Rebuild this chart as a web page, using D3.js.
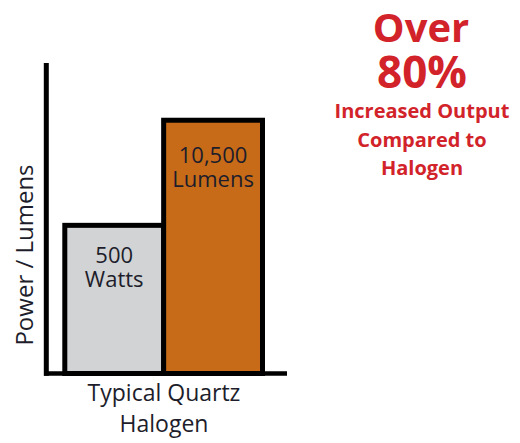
<!DOCTYPE html>
<html>
<head>
<meta charset="utf-8">
<script src="https://cdn.jsdelivr.net/npm/d3@7"></script>
<style>
  body { margin: 0; background: #fff; }
  svg { display: block; font-family: "Open Sans", sans-serif; }
</style>
</head>
<body>
<script>
// categories and values
var categories = ["Watts", "Lumens"];
var valueLabels = ["500", "10,500"];
var unitLabels = ["Watts", "Lumens"];
// relative bar heights as drawn (schematic, not to scale)
var barHeights = [58.5, 100];
var barColors = ["#d1d3d4", "#c86b18"];
var xLabelLines = ["Typical Quartz", "Halogen"];
var yLabel = "Power / Lumens";
var calloutBig = ["Over", "80%"];
var calloutSmall = ["Increased Output", "Compared to", "Halogen"];

var width = 520, height = 443;

var svg = d3.select("body").append("svg")
    .attr("width", width)
    .attr("height", height);

var x = d3.scaleBand()
    .domain(categories)
    .range([64.8, 262.5])
    .padding(0);

var y = d3.scaleLinear()
    .domain([0, 122.6])
    .range([373.5, 63]);

// frame lines
svg.append("line")
    .attr("x1", 46.3).attr("x2", 46.3)
    .attr("y1", y.range()[1]).attr("y2", 375.8)
    .attr("stroke", "#000").attr("stroke-width", 5);

svg.append("line")
    .attr("x1", 44).attr("x2", 287)
    .attr("y1", y(0)).attr("y2", y(0))
    .attr("stroke", "#000").attr("stroke-width", 4.5);

// bars
svg.selectAll("rect.bar")
    .data(categories)
    .enter().append("rect")
    .attr("class", "bar")
    .attr("x", function(d) { return x(d); })
    .attr("y", function(d, i) { return y(barHeights[i]); })
    .attr("width", x.bandwidth())
    .attr("height", function(d, i) { return y(0) - y(barHeights[i]); })
    .attr("fill", function(d, i) { return barColors[i]; })
    .attr("stroke", "#000")
    .attr("stroke-width", 5);

// bar labels
var labelOffset = [37.5, 42.7];
categories.forEach(function(c, i) {
  var t = svg.append("text")
      .attr("x", x(c) + x.bandwidth() / 2)
      .attr("y", y(barHeights[i]) + labelOffset[i])
      .attr("text-anchor", "middle")
      .attr("font-size", 22)
      .attr("fill", "#1d1d2b");
  t.append("tspan").text(valueLabels[i]);
  t.append("tspan")
      .attr("x", x(c) + x.bandwidth() / 2)
      .attr("dy", 24)
      .text(unitLabels[i]);
});

// x label
var xl = svg.append("text")
    .attr("text-anchor", "middle")
    .attr("font-size", 23)
    .attr("fill", "#1d1d2b");
xLabelLines.forEach(function(s, i) {
  xl.append("tspan")
      .attr("x", 164)
      .attr("y", 400.5 + i * 31)
      .text(s);
});

// y label
svg.append("text")
    .attr("transform", "translate(32.5,255) rotate(-90)")
    .attr("text-anchor", "middle")
    .attr("font-size", 24)
    .attr("fill", "#1d1d2b")
    .text(yLabel);

// callout
var red = "#d2232a";
svg.append("text")
    .attr("x", 421).attr("y", 41.7)
    .attr("text-anchor", "middle")
    .attr("font-size", 40).attr("font-weight", "bold")
    .attr("fill", red)
    .text(calloutBig[0]);
svg.append("text")
    .attr("x", 422).attr("y", 88)
    .attr("text-anchor", "middle")
    .attr("font-size", 44).attr("font-weight", "bold")
    .attr("fill", red)
    .text(calloutBig[1]);
calloutSmall.forEach(function(s, i) {
  svg.append("text")
      .attr("x", 422).attr("y", 118 + i * 28.5)
      .attr("text-anchor", "middle")
      .attr("font-size", 20).attr("font-weight", "bold")
      .attr("fill", red)
      .text(s);
});
</script>
</body>
</html>
